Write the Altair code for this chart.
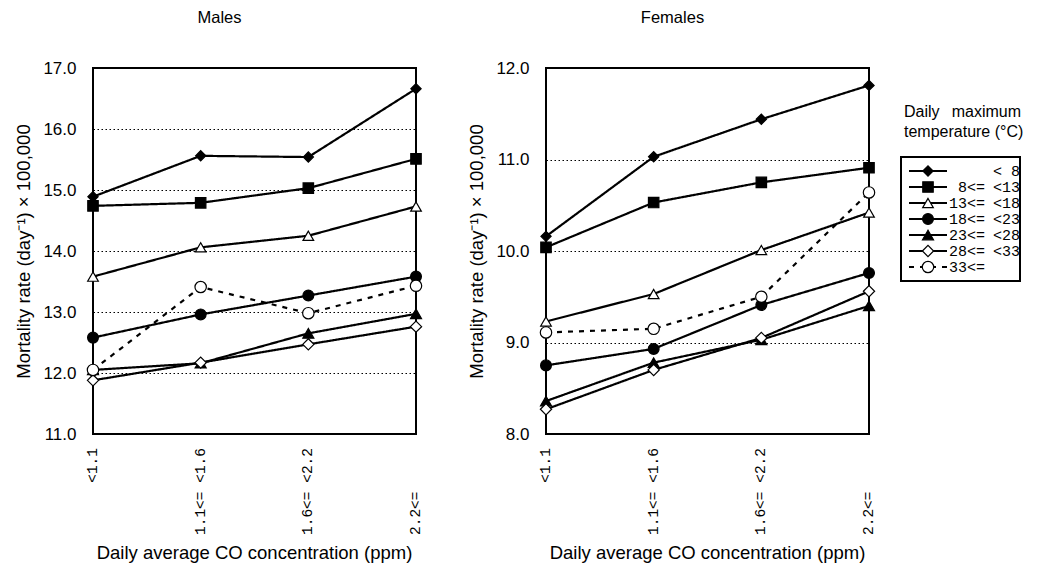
import altair as alt
import pandas as pd

# ---- categories / tick labels / texts ----
co_categories = ["<1.1", "1.1<= <1.6", "1.6<= <2.2", "2.2<="]
x_title = "Daily average CO concentration (ppm)"
y_title = "Mortality rate (day⁻¹) × 100,000"

series = ["<8", "8-13", "13-18", "18-23", "23-28", "28-33", "33+"]
legend_labels = ["< 8", "8<= <13", "13<= <18", "18<= <23", "23<= <28", "28<= <33", "33<="]
legend_title_lines = ["Daily maximum", "temperature (°C)"]

males_ticks = [11.0, 12.0, 13.0, 14.0, 15.0, 16.0, 17.0]
females_ticks = [8.0, 9.0, 10.0, 11.0, 12.0]

# ---- series values ----
males_lt8 = [14.89, 15.56, 15.54, 16.66]
males_8_13 = [14.74, 14.79, 15.03, 15.51]
males_13_18 = [13.58, 14.06, 14.25, 14.73]
males_18_23 = [12.58, 12.96, 13.27, 13.58]
males_23_28 = [12.05, 12.16, 12.65, 12.97]
males_28_33 = [11.88, 12.17, 12.47, 12.76]
males_33 = [12.05, 13.41, 12.98, 13.43]

females_lt8 = [10.16, 11.03, 11.44, 11.81]
females_8_13 = [10.04, 10.53, 10.75, 10.91]
females_13_18 = [9.23, 9.53, 10.01, 10.42]
females_18_23 = [8.75, 8.93, 9.41, 9.76]
females_23_28 = [8.36, 8.78, 9.03, 9.40]
females_28_33 = [8.27, 8.70, 9.05, 9.56]
females_33 = [9.11, 9.15, 9.50, 10.64]

# ---- styles ----
shape_range = ["diamond", "square", "triangle-up", "circle", "triangle-up", "diamond", "circle"]
fill_range = ["black", "black", "white", "black", "black", "white", "white"]
size_range = [105, 130, 125, 130, 125, 100, 130]
dash_range = [[1, 0], [1, 0], [1, 0], [1, 0], [1, 0], [1, 0], [5, 6]]

PW, PH = 323, 366
SANS = "Liberation Sans"
MONO = "Liberation Mono"
XLAB_SIZE = 14.5
CHAR_W = 0.6 * XLAB_SIZE


def split_label(s):
    """Split 'a<= <b' into ('a<=', '<b')."""
    if "<=" in s:
        i = s.index("<=") + 2
        return s[:i].strip(), s[i:].strip()
    return "", s.strip()


co_heads = [split_label(c)[0] for c in co_categories]
co_tails = [split_label(c)[1] for c in co_categories]
xlab_df = pd.DataFrame({"co": co_categories, "head": co_heads, "tail": co_tails})
full_len = max(len(c) for c in co_categories) * CHAR_W


def build_panel(values, ticks, title):
    rows = []
    for s, vals in zip(series, values):
        for c, v in zip(co_categories, vals):
            rows.append({"series": s, "co": c, "rate": v})
    df = pd.DataFrame(rows)

    x = alt.X("co:N", sort=co_categories,
              scale=alt.Scale(type="point", padding=0, domain=co_categories),
              axis=None)
    y = alt.Y("rate:Q",
              scale=alt.Scale(domain=[ticks[0], ticks[-1]], nice=False, zero=False),
              axis=alt.Axis(values=ticks, format=".1f", title=y_title,
                            grid=True, gridDash=[1.5, 2.5], gridColor="black",
                            gridWidth=1.2, gridOpacity=1,
                            ticks=False, domain=False,
                            labelFont=SANS, labelFontSize=17,
                            labelColor="black", labelPadding=17,
                            titleFont=SANS, titleFontSize=18.5,
                            titleFontWeight="normal", titleColor="black",
                            titlePadding=9))

    lines = alt.Chart(df).mark_line(color="black", strokeWidth=2.2).encode(
        x=x, y=y, detail="series:N",
        strokeDash=alt.StrokeDash("series:N",
                                  scale=alt.Scale(domain=series, range=dash_range),
                                  legend=None),
    )
    pts = alt.Chart(df).mark_point(filled=True, stroke="black", strokeWidth=1.2,
                                   opacity=1).encode(
        x=x, y=y,
        shape=alt.Shape("series:N", scale=alt.Scale(domain=series, range=shape_range), legend=None),
        fill=alt.Fill("series:N", scale=alt.Scale(domain=series, range=fill_range), legend=None),
        size=alt.Size("series:N", scale=alt.Scale(domain=series, range=size_range), legend=None),
    )
    # category labels, written vertically under the plot in two columns
    tails = alt.Chart(xlab_df).mark_text(
        angle=270, align="right", baseline="middle", font=MONO,
        fontSize=XLAB_SIZE, color="black").encode(
        x=x, y=alt.value(PH + 14), text="tail:N")
    heads = alt.Chart(xlab_df).mark_text(
        angle=270, align="left", baseline="middle", font=MONO,
        fontSize=XLAB_SIZE, color="black").encode(
        x=x, y=alt.value(PH + 14 + full_len), text="head:N")
    xt = alt.Chart(pd.DataFrame({"t": [x_title]})).mark_text(
        align="center", baseline="middle", font=SANS, fontSize=18.5,
        color="black").encode(
        x=alt.value(PW / 2), y=alt.value(PH + 119), text="t:N")

    return alt.layer(lines, pts, tails, heads, xt).properties(
        width=PW, height=PH,
        title=alt.TitleParams(title, frame="bounds", anchor="middle",
                              font=SANS, fontSize=16.5,
                              fontWeight="normal", color="black", offset=33),
    )


males = build_panel([males_lt8, males_8_13, males_13_18, males_18_23,
                     males_23_28, males_28_33, males_33], males_ticks, "Males")
females = build_panel([females_lt8, females_8_13, females_13_18, females_18_23,
                       females_23_28, females_28_33, females_33], females_ticks, "Females")

# ---- legend panel (drawn by hand) ----
LW = 120
leg_df = pd.DataFrame({"series": series,
                       "head": [split_label(l)[0] for l in legend_labels],
                       "tail": [split_label(l)[1] for l in legend_labels]})
ly = alt.Y("series:N", sort=series,
           scale=alt.Scale(type="point", padding=0, domain=series, range=[103, 199]),
           axis=None)

box = alt.Chart(pd.DataFrame({"k": [0]})).mark_rect(
    filled=False, stroke="black", strokeWidth=2).encode(
    x=alt.value(0), x2=alt.value(LW - 1), y=alt.value(89), y2=alt.value(213))

leg_lines = alt.Chart(leg_df).mark_rule(color="black", strokeWidth=2.2).encode(
    x=alt.value(8), x2=alt.value(46), y=ly,
    strokeDash=alt.StrokeDash("series:N", scale=alt.Scale(domain=series, range=dash_range), legend=None))
leg_pts = alt.Chart(leg_df).mark_point(filled=True, stroke="black", strokeWidth=1.2, opacity=1).encode(
    x=alt.value(27), y=ly,
    shape=alt.Shape("series:N", scale=alt.Scale(domain=series, range=shape_range), legend=None),
    fill=alt.Fill("series:N", scale=alt.Scale(domain=series, range=fill_range), legend=None),
    size=alt.Size("series:N", scale=alt.Scale(domain=series, range=size_range), legend=None),
)
leg_head = alt.Chart(leg_df).mark_text(
    align="right", baseline="middle", font=MONO, fontSize=15, color="black").encode(
    x=alt.value(84), y=ly, text="head:N")
leg_tail = alt.Chart(leg_df).mark_text(
    align="left", baseline="middle", font=MONO, fontSize=15, color="black").encode(
    x=alt.value(92), y=ly, text="tail:N")

w1, w2 = legend_title_lines[0].split()
t_left = alt.Chart(pd.DataFrame({"t": [w1, legend_title_lines[1]], "row": [0, 1]})).mark_text(
    align="left", baseline="middle", font=SANS, fontSize=16, color="black").encode(
    x=alt.value(3),
    y=alt.Y("row:O", scale=alt.Scale(type="point", padding=0, range=[44, 64]), axis=None),
    text="t:N")
t_right = alt.Chart(pd.DataFrame({"t": [w2]})).mark_text(
    align="right", baseline="middle", font=SANS, fontSize=16, color="black").encode(
    x=alt.value(LW), y=alt.value(44), text="t:N")

legend = alt.layer(box, leg_lines, leg_pts, leg_head, leg_tail, t_left, t_right).resolve_scale(
    y="independent").properties(
    width=LW, height=PH,
    view=alt.ViewBackground(stroke="transparent"),
    title=alt.TitleParams("\u00a0", frame="bounds", anchor="middle", font=SANS,
                          fontSize=16.5, fontWeight="normal", color="black", offset=33),
)

plots = alt.hconcat(males, females, spacing=40)
chart = alt.hconcat(plots, legend, spacing=20).resolve_scale(
    y="independent", shape="independent", fill="independent", size="independent",
    strokeDash="independent"
).configure_view(stroke="black", strokeWidth=2).properties(
    padding={"left": 5, "top": 0, "right": 0, "bottom": 0},
    background="white",
)

chart.save("out.html", embed_options={"renderer": "svg", "actions": False})
